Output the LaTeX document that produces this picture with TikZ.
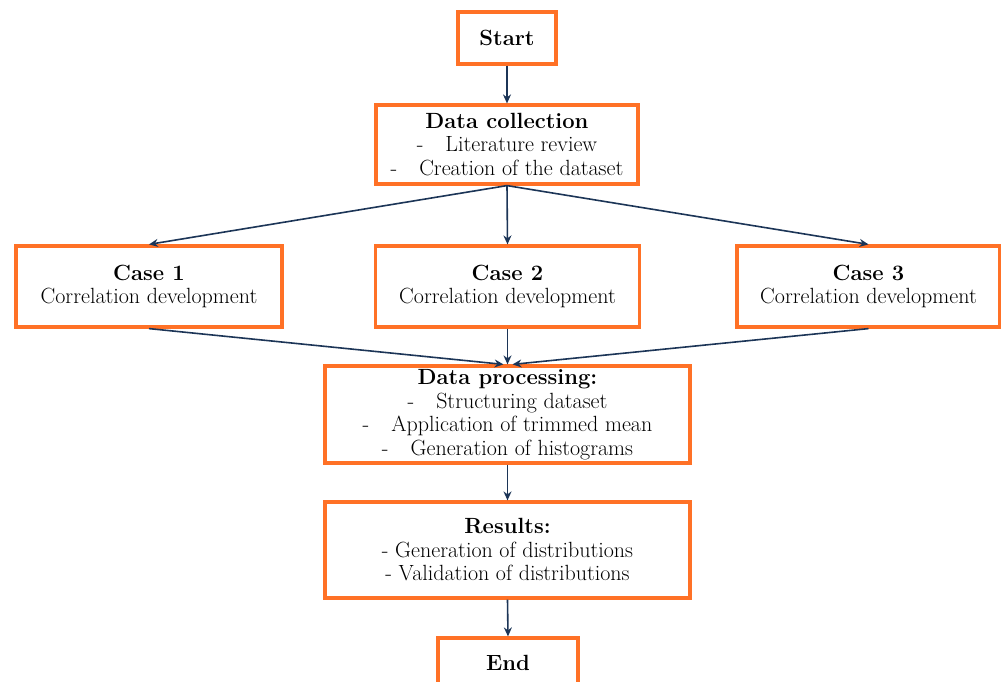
\documentclass[tikz,border=0pt]{standalone}
\usepackage{fontspec}
\usetikzlibrary{arrows.meta}
\definecolor{boxorange}{HTML}{FF7126}
\definecolor{arrownavy}{HTML}{1C3557}
\tikzset{
  x=1pt, y=-1pt,
  flowbox/.style={draw=boxorange, line width=3.2pt, fill=white, align=center,
    inner sep=0pt, font=\fontsize{22}{23.5}\selectfont},
  flowarrow/.style={draw=arrownavy, line width=1.6pt, -{Stealth[length=9pt,width=8pt]}},
}
\newcommand{\dashitem}[1]{-\hspace{22pt}#1}
\begin{document}
\begin{tikzpicture}
\useasboundingbox[fill=white] (0,0) rectangle (1001,682);
\node[flowbox, minimum width=98pt, minimum height=52pt] (start) at (507,38) {\textbf{Start}};
\node[flowbox, minimum width=262pt, minimum height=79pt] (dc) at (507,144.5)
  {\textbf{Data collection}\\ \dashitem{Literature review}\\ \dashitem{Creation of the dataset}};
\node[flowbox, minimum width=266pt, minimum height=81pt] (c1) at (149,286.5)
  {\textbf{Case 1}\\ Correlation development};
\node[flowbox, minimum width=264pt, minimum height=81pt] (c2) at (507.5,286.5)
  {\textbf{Case 2}\\ Correlation development};
\node[flowbox, minimum width=263pt, minimum height=81pt] (c3) at (868.5,286.5)
  {\textbf{Case 3}\\ Correlation development};
\node[flowbox, minimum width=365pt, minimum height=97pt] (dp) at (507.5,414.5)
  {\textbf{Data processing:}\\ \dashitem{Structuring dataset}\\ \dashitem{Application of trimmed mean}\\ \dashitem{Generation of histograms}};
\node[flowbox, minimum width=365pt, minimum height=96pt] (res) at (507.5,550)
  {\textbf{Results:}\\ - Generation of distributions\\ - Validation of distributions};
\node[flowbox, minimum width=140pt, minimum height=50pt] (end) at (508,663) {\textbf{End}};
\coordinate (dpL) at ([xshift=-4pt]dp.north);
\coordinate (dpR) at ([xshift=5pt]dp.north);
\draw[flowarrow] (start.south) -- (dc.north);
\draw[flowarrow] (dc.south) -- (c1.north);
\draw[flowarrow] (dc.south) -- (c2.north);
\draw[flowarrow] (dc.south) -- (c3.north);
\draw[flowarrow] (c1.south) -- (dpL);
\draw[flowarrow] (c2.south) -- (dp.north);
\draw[flowarrow] (c3.south) -- (dpR);
\draw[flowarrow] (dp.south) -- (res.north);
\draw[flowarrow] (res.south) -- (end.north);
\end{tikzpicture}
\end{document}
